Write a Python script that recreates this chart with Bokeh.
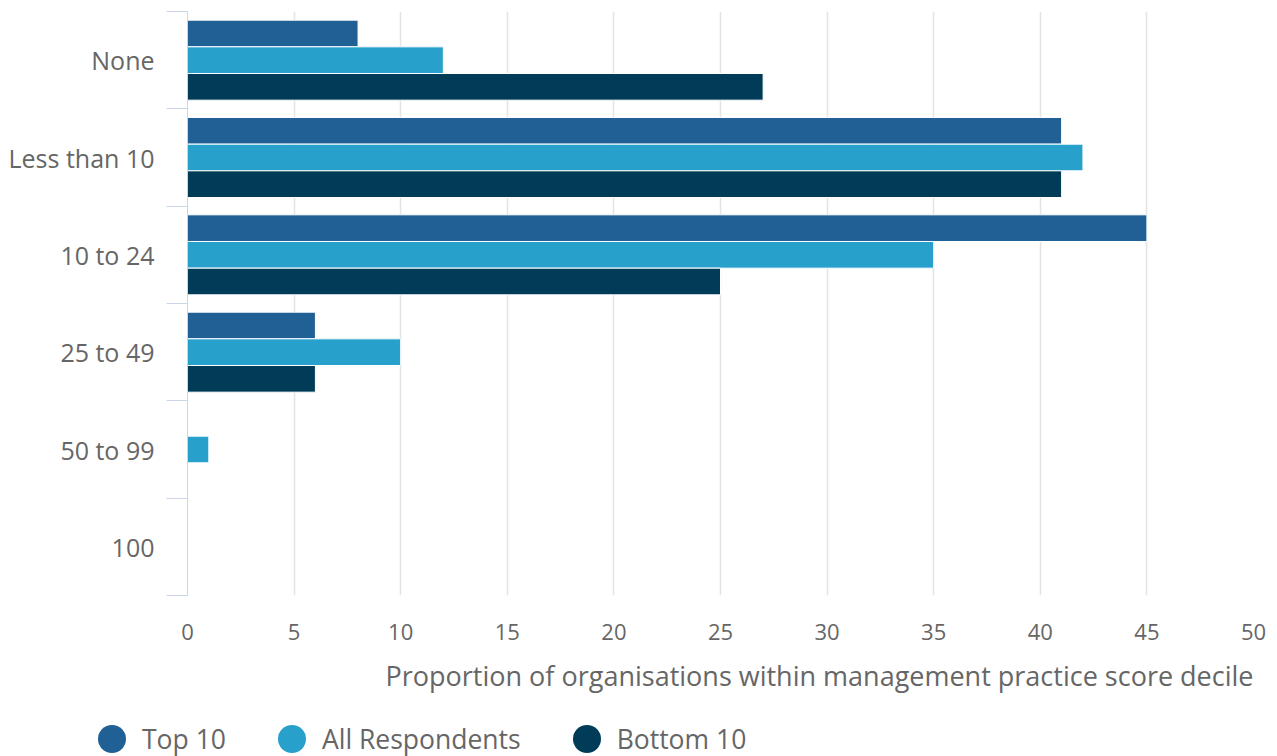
from bokeh.plotting import figure
from bokeh.layouts import column
from bokeh.models import (FixedTicker, LinearAxis, Range1d, ColumnDataSource, Title, Div)
from bokeh.embed import file_html
from bokeh.resources import INLINE

categories = ["None", "Less than 10", "10 to 24", "25 to 49", "50 to 99", "100"]
top10 = [8, 41, 45, 6, 0, 0]
all_resp = [12, 42, 35, 10, 1, 0]
bottom10 = [27, 41, 25, 6, 0, 0]
series_names = ["Top 10", "All Respondents", "Bottom 10"]
x_ticks = [0, 5, 10, 15, 20, 25, 30, 35, 40, 45, 50]
x_title = "Proportion of organisations within management practice score decile"

colors = ["#206095", "#27A0CC", "#003C57"]
FONT = "Open Sans"
TXT = "#666666"
AXIS = "#ccd6eb"

n = len(categories)
centers = [n - i - 0.5 for i in range(n)]
bar_h = 0.274
offsets = [bar_h, 0.0, -bar_h]

p = figure(output_backend="svg", toolbar_location=None,
           x_range=Range1d(0, 50), y_range=Range1d(0, n),
           frame_width=1066, frame_height=584,
           min_border_left=187, min_border_right=16, min_border_top=11, min_border_bottom=120)
p.outline_line_color = None
p.background_fill_color = "white"

for vals, off, col in zip([top10, all_resp, bottom10], offsets, colors):
    src = ColumnDataSource(dict(y=[c + off for c in centers], right=vals))
    p.hbar(y="y", right="right", left=0, height=bar_h, source=src,
           fill_color=col, line_color="white", line_width=1)

# x axis
xa = p.xaxis[0]
xa.ticker = FixedTicker(ticks=x_ticks)
xa.axis_line_color = None
xa.major_tick_line_color = None
xa.minor_tick_line_color = None
xa.major_tick_out = 0
xa.major_tick_in = 0
xa.major_label_standoff = 28
xa.major_label_text_font = FONT
xa.major_label_text_font_size = "22px"
xa.major_label_text_color = TXT

p.xgrid.ticker = FixedTicker(ticks=x_ticks)
p.xgrid.grid_line_color = "#e3e3e3"
p.xgrid.grid_line_width = 1.5
p.ygrid.grid_line_color = None

# y axis with boundary ticks
ya = p.yaxis[0]
ya.ticker = FixedTicker(ticks=list(range(n + 1)))
ya.major_label_overrides = {i: "" for i in range(n + 1)}
ya.axis_line_color = AXIS
ya.major_tick_line_color = AXIS
ya.major_tick_out = 21
ya.major_tick_in = 0
ya.minor_tick_line_color = None
ya.major_label_standoff = 0
ya.major_label_text_font_size = "1px"

# y axis with category labels
yl = LinearAxis(ticker=FixedTicker(ticks=centers),
                major_label_overrides={c: cat for c, cat in zip(centers, categories)})
yl.axis_line_color = None
yl.major_tick_line_color = None
yl.minor_tick_line_color = None
yl.major_tick_out = 0
yl.major_tick_in = 0
yl.major_label_standoff = 12
yl.major_label_text_font = FONT
yl.major_label_text_font_size = "25px"
yl.major_label_text_color = TXT
p.add_layout(yl, "left")

# x axis title (right aligned under the frame)
t = Title(text=x_title, align="right", text_font=FONT, text_font_size="27px",
          text_font_style="normal", text_color=TXT, standoff=24, offset=0)
p.add_layout(t, "below")

# legend row
items_html = "".join(
    f'<div style="display:flex;align-items:center;margin-right:52px">'
    f'<span style="display:inline-block;width:28px;height:28px;border-radius:50%;'
    f'background:{c};margin-right:16px"></span><span>{nm}</span></div>'
    for nm, c in zip(series_names, colors))
legend_html = (
    f'<div style="display:flex;align-items:center;height:28px;margin-top:10px;'
    f'padding-left:98px;font-family:\'{FONT}\',sans-serif;font-size:26.5px;'
    f'color:{TXT};line-height:28px;white-space:nowrap">{items_html}</div>')
legend_div = Div(text=legend_html, width=1269, height=41, margin=(0, 0, 0, 0))

layout = column(p, legend_div, spacing=0)
open("out.html", "w").write(file_html(layout, INLINE))
